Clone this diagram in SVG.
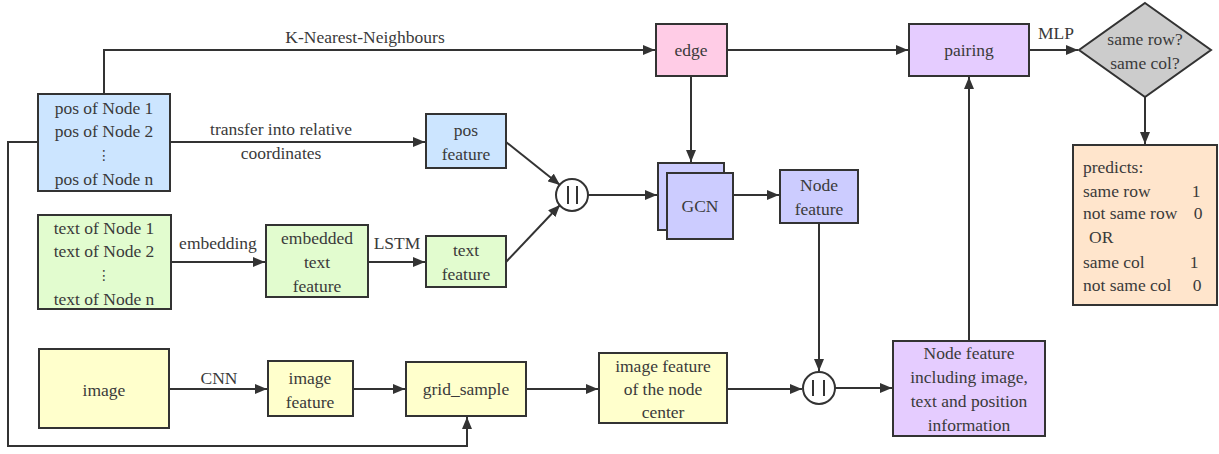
<svg xmlns="http://www.w3.org/2000/svg" width="1219" height="454" viewBox="0 0 1219 454" font-family="Liberation Serif, serif" font-size="17.5">
<style>
text{fill:#3a3a3a;text-anchor:middle}
.l{text-anchor:start}
.box{stroke:#333;stroke-width:2}
.ln{fill:none;stroke:#333;stroke-width:2}
</style>
<defs>
<marker id="ar" viewBox="0 0 12 10" refX="12" refY="5" markerWidth="12" markerHeight="10" markerUnits="userSpaceOnUse" orient="auto">
<path d="M0,0 L12,5 L0,10 z" fill="#333"/>
</marker>
</defs>
<rect width="1219" height="454" fill="#fff"/>
<g id="connectors">
<path class="ln" d="M104,94 V50 H655" marker-end="url(#ar)"/>
<text x="365" y="43">K-Nearest-Neighbours</text>
<path class="ln" d="M727,50 H908" marker-end="url(#ar)"/>
<path class="ln" d="M1029,50 H1078" marker-end="url(#ar)"/>
<text x="1056" y="39">MLP</text>
<path class="ln" d="M1145,97 V144" marker-end="url(#ar)"/>
<path class="ln" d="M170,142 H425" marker-end="url(#ar)"/>
<text x="281" y="135">transfer into relative</text>
<text x="281" y="159">coordinates</text>
<path class="ln" d="M171,262 H265" marker-end="url(#ar)"/>
<text x="218" y="249">embedding</text>
<path class="ln" d="M368,262 H425" marker-end="url(#ar)"/>
<text x="397" y="249">LSTM</text>
<path class="ln" d="M506,142 L560,185" marker-end="url(#ar)"/>
<path class="ln" d="M506,262 L560,205" marker-end="url(#ar)"/>
<path class="ln" d="M588,195 H657" marker-end="url(#ar)"/>
<path class="ln" d="M691,76 V162" marker-end="url(#ar)"/>
<path class="ln" d="M733,195 H779" marker-end="url(#ar)"/>
<path class="ln" d="M819,223 V371" marker-end="url(#ar)"/>
<path class="ln" d="M835,388 H892" marker-end="url(#ar)"/>
<path class="ln" d="M969,341 V77" marker-end="url(#ar)"/>
<path class="ln" d="M169,389 H267" marker-end="url(#ar)"/>
<text x="219" y="384">CNN</text>
<path class="ln" d="M353,389 H405" marker-end="url(#ar)"/>
<path class="ln" d="M526,389 H598" marker-end="url(#ar)"/>
<path class="ln" d="M727,389 H802" marker-end="url(#ar)"/>
<path class="ln" d="M38,142 H8 V446 H467 V417" marker-end="url(#ar)"/>
</g>
<g id="pos">
<rect class="box" x="38" y="94" width="132" height="97" fill="#cce5ff"/>
<text x="104" y="114">pos of Node 1</text>
<text x="104" y="137">pos of Node 2</text>
<text x="104" y="160" font-family="DejaVu Sans" font-size="14">⋮</text>
<text x="104" y="185">pos of Node n</text>
</g>
<g id="edge">
<rect class="box" x="656" y="24" width="71" height="52" fill="#ffcce6"/>
<text x="691" y="56">edge</text>
</g>
<g id="pairing">
<rect class="box" x="909" y="24" width="120" height="52" fill="#e5ccff"/>
<text x="969" y="56">pairing</text>
</g>
<g id="decision">
<path class="box" d="M1145,3 L1211,50 L1145,97 L1079,50 z" fill="#cccccc"/>
<text x="1145" y="45">same row?</text>
<text x="1145" y="69">same col?</text>
</g>
<g id="predicts">
<rect class="box" x="1073" y="145" width="144" height="160" fill="#ffe5cc"/>
<text class="l" x="1083" y="173">predicts:</text>
<text class="l" x="1083" y="197">same row<tspan x="1196" text-anchor="middle">1</tspan></text>
<text class="l" x="1083" y="219">not same row<tspan x="1198" text-anchor="middle">0</tspan></text>
<text class="l" x="1089" y="243">OR</text>
<text class="l" x="1083" y="268">same col<tspan x="1194" text-anchor="middle">1</tspan></text>
<text class="l" x="1083" y="291">not same col<tspan x="1197" text-anchor="middle">0</tspan></text>
</g>
<g id="posfeature">
<rect class="box" x="426" y="114" width="80" height="54" fill="#cce5ff"/>
<text x="466" y="136">pos</text>
<text x="466" y="160">feature</text>
</g>
<g id="textnodes">
<rect class="box" x="38" y="215" width="133" height="94" fill="#e2fccf"/>
<text x="104" y="234">text of Node 1</text>
<text x="104" y="257">text of Node 2</text>
<text x="104" y="280" font-family="DejaVu Sans" font-size="14">⋮</text>
<text x="104" y="305">text of Node n</text>
</g>
<g id="embedded">
<rect class="box" x="266" y="225" width="102" height="72" fill="#e2fccf"/>
<text x="317" y="244">embedded</text>
<text x="317" y="268">text</text>
<text x="317" y="292">feature</text>
</g>
<g id="textfeature">
<rect class="box" x="426" y="236" width="80" height="51" fill="#e2fccf"/>
<text x="466" y="256">text</text>
<text x="466" y="280">feature</text>
</g>
<g id="concat1">
<circle cx="572" cy="195" r="16" fill="#fff" stroke="#333" stroke-width="2"/>
<path d="M568,186 V204 M577,186 V204" stroke="#333" stroke-width="2"/>
</g>
<g id="gcn">
<rect class="box" x="658" y="163" width="66" height="67" fill="#ccccff"/>
<rect class="box" x="667" y="173" width="66" height="66" fill="#ccccff"/>
<text x="700" y="212">GCN</text>
</g>
<g id="nodefeature">
<rect class="box" x="780" y="170" width="78" height="53" fill="#ccccff"/>
<text x="819" y="191">Node</text>
<text x="819" y="215">feature</text>
</g>
<g id="concat2">
<circle cx="819" cy="388" r="16" fill="#fff" stroke="#333" stroke-width="2"/>
<path d="M813,380 V396 M824,380 V396" stroke="#333" stroke-width="2"/>
</g>
<g id="nodefeatureall">
<rect class="box" x="893" y="341" width="152" height="95" fill="#e5ccff"/>
<text x="969" y="359">Node feature</text>
<text x="969" y="383">including image,</text>
<text x="969" y="407">text and position</text>
<text x="969" y="431">information</text>
</g>
<g id="image">
<rect class="box" x="39" y="349" width="130" height="79" fill="#ffffcc"/>
<text x="104" y="396">image</text>
</g>
<g id="imagefeature">
<rect class="box" x="268" y="361" width="85" height="55" fill="#ffffcc"/>
<text x="310" y="384">image</text>
<text x="310" y="408">feature</text>
</g>
<g id="gridsample">
<rect class="box" x="406" y="362" width="120" height="54" fill="#ffffcc"/>
<text x="466" y="395">grid_sample</text>
</g>
<g id="imagecenter">
<rect class="box" x="599" y="353" width="128" height="70" fill="#ffffcc"/>
<text x="663" y="372">image feature</text>
<text x="663" y="395">of the node</text>
<text x="663" y="418">center</text>
</g>
</svg>
